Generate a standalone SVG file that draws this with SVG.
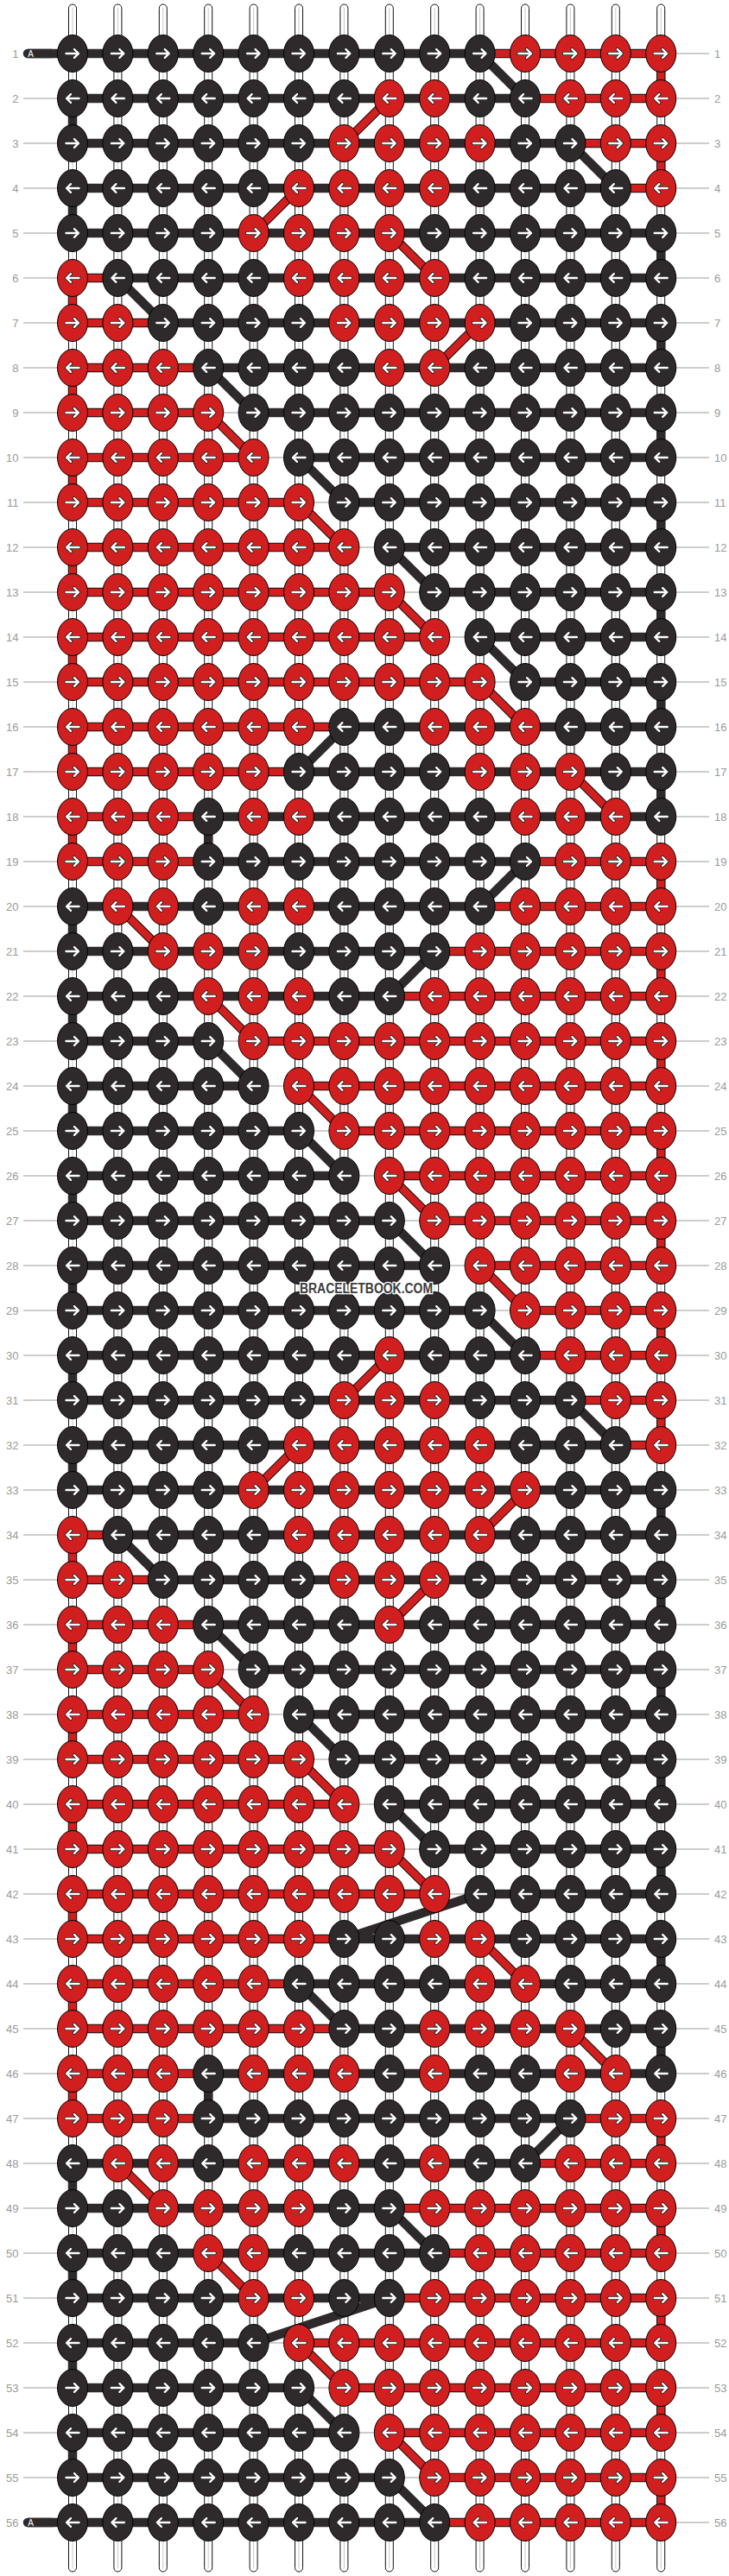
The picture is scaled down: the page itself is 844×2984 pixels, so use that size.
<svg xmlns="http://www.w3.org/2000/svg" width="844" height="2984" viewBox="0 0 844 2984">
<style>
.kb{fill:#2e2a2b;stroke:#000;stroke-width:1}
.kr{fill:#d01f1e;stroke:#000;stroke-width:1}
.st{fill:#fff;stroke:#111;stroke-width:1}
.sc{stroke:#c8c8c8;stroke-width:1;fill:none}
.gl{stroke:#bdbdbd;stroke-width:1.3;fill:none}
.tb{fill:none;stroke:#2e2a2b;stroke-width:10.5}
.to{fill:none;stroke:#111;stroke-width:10.5}
.tr{fill:none;stroke:#d01f1e;stroke-width:8.5}
.ll{font-family:"Liberation Sans",Arial,sans-serif;font-size:13px;fill:#9a9a9a;text-anchor:end}
.lr{font-family:"Liberation Sans",Arial,sans-serif;font-size:13px;fill:#9a9a9a;text-anchor:start}
</style>
<defs>
<g id="ar"><path d="M-7.5,0H6.5M2,-4.8L7,0L2,4.8" fill="none" stroke="#222" stroke-width="4.2" stroke-linecap="round" stroke-linejoin="round"/><path d="M-7.5,0H6.5M2,-4.8L7,0L2,4.8" fill="none" stroke="#fff" stroke-width="2.4" stroke-linecap="round" stroke-linejoin="round"/></g>
<g id="al"><use href="#ar" transform="scale(-1,1)"/></g>
<g id="Br"><ellipse rx="17.5" ry="21.5" class="kb"/><use href="#ar"/></g>
<g id="Rr"><ellipse rx="17.5" ry="21.5" class="kr"/><use href="#ar"/></g>
<g id="Bl"><ellipse rx="17.5" ry="21.5" class="kb"/><use href="#al"/></g>
<g id="Rl"><ellipse rx="17.5" ry="21.5" class="kr"/><use href="#al"/></g>
<path id="redpath" d="M555.6 62H765.2V114M608 114H765.2M450.8 114L398.4 166M660.4 166H765.2V218M712.8 218H765.2M346 218L293.6 270M450.8 270L503.2 322M84 322H136.4M84 322V374M84 374H188.8M555.6 374L503.2 426M84 426H241.2M84 426V478M84 478H241.2M241.2 478L293.6 530M84 530H293.6M84 530V582M84 582H346M346 582L398.4 634M84 634H398.4M84 634V686M84 686H450.8M450.8 686L503.2 738M84 738H503.2M84 738V790M84 790H555.6M555.6 790L608 842M84 842H398.4M84 842V894M84 894H346M660.4 894L712.8 946M84 946H241.2M84 946V998M84 998H241.2M608 998H765.2V1050M555.6 1050H765.2M136.4 1050L188.8 1102M503.2 1102H765.2V1154M450.8 1154H765.2M241.2 1154L293.6 1206M293.6 1206H765.2V1258M346 1258H765.2M346 1258L398.4 1310M398.4 1310H765.2V1362M450.8 1362H765.2M450.8 1362L503.2 1414M503.2 1414H765.2V1466M555.6 1466H765.2M555.6 1466L608 1518M608 1518H765.2V1570M608 1570H765.2M450.8 1570L398.4 1622M660.4 1622H765.2V1674M712.8 1674H765.2M346 1674L293.6 1726M608 1726L555.6 1778M84 1778H136.4M84 1778V1830M84 1830H188.8M503.2 1830L450.8 1882M84 1882H241.2M84 1882V1934M84 1934H241.2M241.2 1934L293.6 1986M84 1986H293.6M84 1986V2038M84 2038H346M346 2038L398.4 2090M84 2090H398.4M84 2090V2142M84 2142H450.8M450.8 2142L503.2 2194M84 2194H503.2M84 2194V2246M84 2246H398.4M555.6 2246L608 2298M84 2298H346M84 2298V2350M84 2350H398.4M660.4 2350L712.8 2402M84 2402H241.2M84 2402V2454M84 2454H241.2M660.4 2454H765.2V2506M608 2506H765.2M136.4 2506L188.8 2558M450.8 2558H765.2V2610M503.2 2610H765.2M241.2 2610L293.6 2662M450.8 2662H765.2V2714M346 2714H765.2M346 2714L398.4 2766M398.4 2766H765.2V2818M450.8 2818H765.2M450.8 2818L503.2 2870M503.2 2870H765.2V2922M503.2 2922H765.2"/>
</defs>
<rect width="844" height="2984" fill="#fff"/>
<g id="guides">
<path class="gl" d="M27 62H821M27 114H821M27 166H821M27 218H821M27 270H821M27 322H821M27 374H821M27 426H821M27 478H821M27 530H821M27 582H821M27 634H821M27 686H821M27 738H821M27 790H821M27 842H821M27 894H821M27 946H821M27 998H821M27 1050H821M27 1102H821M27 1154H821M27 1206H821M27 1258H821M27 1310H821M27 1362H821M27 1414H821M27 1466H821M27 1518H821M27 1570H821M27 1622H821M27 1674H821M27 1726H821M27 1778H821M27 1830H821M27 1882H821M27 1934H821M27 1986H821M27 2038H821M27 2090H821M27 2142H821M27 2194H821M27 2246H821M27 2298H821M27 2350H821M27 2402H821M27 2454H821M27 2506H821M27 2558H821M27 2610H821M27 2662H821M27 2714H821M27 2766H821M27 2818H821M27 2870H821M27 2922H821"/>
</g>
<g id="strings">
<rect class="st" x="79.5" y="5" width="9" height="2974" rx="4.5"/>
<rect class="st" x="131.9" y="5" width="9" height="2974" rx="4.5"/>
<rect class="st" x="184.3" y="5" width="9" height="2974" rx="4.5"/>
<rect class="st" x="236.7" y="5" width="9" height="2974" rx="4.5"/>
<rect class="st" x="289.1" y="5" width="9" height="2974" rx="4.5"/>
<rect class="st" x="341.5" y="5" width="9" height="2974" rx="4.5"/>
<rect class="st" x="393.9" y="5" width="9" height="2974" rx="4.5"/>
<rect class="st" x="446.3" y="5" width="9" height="2974" rx="4.5"/>
<rect class="st" x="498.7" y="5" width="9" height="2974" rx="4.5"/>
<rect class="st" x="551.1" y="5" width="9" height="2974" rx="4.5"/>
<rect class="st" x="603.5" y="5" width="9" height="2974" rx="4.5"/>
<rect class="st" x="655.9" y="5" width="9" height="2974" rx="4.5"/>
<rect class="st" x="708.3" y="5" width="9" height="2974" rx="4.5"/>
<rect class="st" x="760.7" y="5" width="9" height="2974" rx="4.5"/>
<path class="sc" d="M84 9V2975M136.4 9V2975M188.8 9V2975M241.2 9V2975M293.6 9V2975M346 9V2975M398.4 9V2975M450.8 9V2975M503.2 9V2975M555.6 9V2975M608 9V2975M660.4 9V2975M712.8 9V2975M765.2 9V2975"/>
</g>
<g id="connectors">
<path class="tb" d="M32 62H555.6M555.6 62L608 114M84 114H608M84 114V166M84 166H660.4M660.4 166L712.8 218M84 218H712.8M84 218V270M84 270H765.2M765.2 270V322M136.4 322H765.2M136.4 322L188.8 374M188.8 374H765.2M765.2 374V426M241.2 426H765.2M241.2 426L293.6 478M293.6 478H765.2M765.2 478V530M346 530H765.2M346 530L398.4 582M398.4 582H765.2M765.2 582V634M450.8 634H765.2M450.8 634L503.2 686M503.2 686H765.2M765.2 686V738M555.6 738H765.2M555.6 738L608 790M608 790H765.2M765.2 790V842M398.4 842H765.2M398.4 842L346 894M346 894H765.2M765.2 894V946M241.2 946H765.2M241.2 946V998M241.2 998H608M608 998L555.6 1050M84 1050H555.6M84 1050V1102M84 1102H503.2M503.2 1102L450.8 1154M84 1154H450.8M84 1154V1206M84 1206H241.2M241.2 1206L293.6 1258M84 1258H293.6M84 1258V1310M84 1310H346M346 1310L398.4 1362M84 1362H398.4M84 1362V1414M84 1414H450.8M450.8 1414L503.2 1466M84 1466H503.2M84 1466V1518M84 1518H555.6M555.6 1518L608 1570M84 1570H608M84 1570V1622M84 1622H660.4M660.4 1622L712.8 1674M84 1674H712.8M84 1674V1726M84 1726H765.2M765.2 1726V1778M136.4 1778H765.2M136.4 1778L188.8 1830M188.8 1830H765.2M765.2 1830V1882M241.2 1882H765.2M241.2 1882L293.6 1934M293.6 1934H765.2M765.2 1934V1986M346 1986H765.2M346 1986L398.4 2038M398.4 2038H765.2M765.2 2038V2090M450.8 2090H765.2M450.8 2090L503.2 2142M503.2 2142H765.2M765.2 2142V2194M555.6 2194H765.2M555.6 2194L398.4 2246M398.4 2246H765.2M765.2 2246V2298M346 2298H765.2M346 2298L398.4 2350M398.4 2350H765.2M765.2 2350V2402M241.2 2402H765.2M241.2 2402V2454M241.2 2454H660.4M660.4 2454L608 2506M84 2506H608M84 2506V2558M84 2558H450.8M450.8 2558L503.2 2610M84 2610H503.2M84 2610V2662M84 2662H450.8M450.8 2662L293.6 2714M84 2714H293.6M84 2714V2766M84 2766H346M346 2766L398.4 2818M84 2818H398.4M84 2818V2870M84 2870H450.8M450.8 2870L503.2 2922M32 2922H503.2"/>
<use href="#redpath" class="to"/>
<use href="#redpath" class="tr"/>
<path d="M32 62H60M32 2922H60" fill="none" stroke="#2e2a2b" stroke-width="10.5" stroke-linecap="round"/>
<text x="35.5" y="65.8" font-family="Liberation Sans, Arial, sans-serif" font-size="10" fill="#fff" text-anchor="middle">A</text>
<text x="35.5" y="2925.8" font-family="Liberation Sans, Arial, sans-serif" font-size="10" fill="#fff" text-anchor="middle">A</text>
</g>
<g id="knots">
<g id="row1" transform="translate(0,62)"><use id="k1-1" href="#Br" x="84"/><use id="k1-2" href="#Br" x="136.4"/><use id="k1-3" href="#Br" x="188.8"/><use id="k1-4" href="#Br" x="241.2"/><use id="k1-5" href="#Br" x="293.6"/><use id="k1-6" href="#Br" x="346"/><use id="k1-7" href="#Br" x="398.4"/><use id="k1-8" href="#Br" x="450.8"/><use id="k1-9" href="#Br" x="503.2"/><use id="k1-10" href="#Br" x="555.6"/><use id="k1-11" href="#Rr" x="608"/><use id="k1-12" href="#Rr" x="660.4"/><use id="k1-13" href="#Rr" x="712.8"/><use id="k1-14" href="#Rr" x="765.2"/></g>
<g id="row2" transform="translate(0,114)"><use id="k2-1" href="#Bl" x="84"/><use id="k2-2" href="#Bl" x="136.4"/><use id="k2-3" href="#Bl" x="188.8"/><use id="k2-4" href="#Bl" x="241.2"/><use id="k2-5" href="#Bl" x="293.6"/><use id="k2-6" href="#Bl" x="346"/><use id="k2-7" href="#Bl" x="398.4"/><use id="k2-8" href="#Rl" x="450.8"/><use id="k2-9" href="#Rl" x="503.2"/><use id="k2-10" href="#Bl" x="555.6"/><use id="k2-11" href="#Bl" x="608"/><use id="k2-12" href="#Rl" x="660.4"/><use id="k2-13" href="#Rl" x="712.8"/><use id="k2-14" href="#Rl" x="765.2"/></g>
<g id="row3" transform="translate(0,166)"><use id="k3-1" href="#Br" x="84"/><use id="k3-2" href="#Br" x="136.4"/><use id="k3-3" href="#Br" x="188.8"/><use id="k3-4" href="#Br" x="241.2"/><use id="k3-5" href="#Br" x="293.6"/><use id="k3-6" href="#Br" x="346"/><use id="k3-7" href="#Rr" x="398.4"/><use id="k3-8" href="#Rr" x="450.8"/><use id="k3-9" href="#Rr" x="503.2"/><use id="k3-10" href="#Rr" x="555.6"/><use id="k3-11" href="#Br" x="608"/><use id="k3-12" href="#Br" x="660.4"/><use id="k3-13" href="#Rr" x="712.8"/><use id="k3-14" href="#Rr" x="765.2"/></g>
<g id="row4" transform="translate(0,218)"><use id="k4-1" href="#Bl" x="84"/><use id="k4-2" href="#Bl" x="136.4"/><use id="k4-3" href="#Bl" x="188.8"/><use id="k4-4" href="#Bl" x="241.2"/><use id="k4-5" href="#Bl" x="293.6"/><use id="k4-6" href="#Rl" x="346"/><use id="k4-7" href="#Rl" x="398.4"/><use id="k4-8" href="#Rl" x="450.8"/><use id="k4-9" href="#Rl" x="503.2"/><use id="k4-10" href="#Bl" x="555.6"/><use id="k4-11" href="#Bl" x="608"/><use id="k4-12" href="#Bl" x="660.4"/><use id="k4-13" href="#Bl" x="712.8"/><use id="k4-14" href="#Rl" x="765.2"/></g>
<g id="row5" transform="translate(0,270)"><use id="k5-1" href="#Br" x="84"/><use id="k5-2" href="#Br" x="136.4"/><use id="k5-3" href="#Br" x="188.8"/><use id="k5-4" href="#Br" x="241.2"/><use id="k5-5" href="#Rr" x="293.6"/><use id="k5-6" href="#Rr" x="346"/><use id="k5-7" href="#Rr" x="398.4"/><use id="k5-8" href="#Rr" x="450.8"/><use id="k5-9" href="#Br" x="503.2"/><use id="k5-10" href="#Br" x="555.6"/><use id="k5-11" href="#Br" x="608"/><use id="k5-12" href="#Br" x="660.4"/><use id="k5-13" href="#Br" x="712.8"/><use id="k5-14" href="#Br" x="765.2"/></g>
<g id="row6" transform="translate(0,322)"><use id="k6-1" href="#Rl" x="84"/><use id="k6-2" href="#Bl" x="136.4"/><use id="k6-3" href="#Bl" x="188.8"/><use id="k6-4" href="#Bl" x="241.2"/><use id="k6-5" href="#Bl" x="293.6"/><use id="k6-6" href="#Rl" x="346"/><use id="k6-7" href="#Rl" x="398.4"/><use id="k6-8" href="#Rl" x="450.8"/><use id="k6-9" href="#Rl" x="503.2"/><use id="k6-10" href="#Bl" x="555.6"/><use id="k6-11" href="#Bl" x="608"/><use id="k6-12" href="#Bl" x="660.4"/><use id="k6-13" href="#Bl" x="712.8"/><use id="k6-14" href="#Bl" x="765.2"/></g>
<g id="row7" transform="translate(0,374)"><use id="k7-1" href="#Rr" x="84"/><use id="k7-2" href="#Rr" x="136.4"/><use id="k7-3" href="#Br" x="188.8"/><use id="k7-4" href="#Br" x="241.2"/><use id="k7-5" href="#Br" x="293.6"/><use id="k7-6" href="#Br" x="346"/><use id="k7-7" href="#Rr" x="398.4"/><use id="k7-8" href="#Rr" x="450.8"/><use id="k7-9" href="#Rr" x="503.2"/><use id="k7-10" href="#Rr" x="555.6"/><use id="k7-11" href="#Br" x="608"/><use id="k7-12" href="#Br" x="660.4"/><use id="k7-13" href="#Br" x="712.8"/><use id="k7-14" href="#Br" x="765.2"/></g>
<g id="row8" transform="translate(0,426)"><use id="k8-1" href="#Rl" x="84"/><use id="k8-2" href="#Rl" x="136.4"/><use id="k8-3" href="#Rl" x="188.8"/><use id="k8-4" href="#Bl" x="241.2"/><use id="k8-5" href="#Bl" x="293.6"/><use id="k8-6" href="#Bl" x="346"/><use id="k8-7" href="#Bl" x="398.4"/><use id="k8-8" href="#Rl" x="450.8"/><use id="k8-9" href="#Rl" x="503.2"/><use id="k8-10" href="#Bl" x="555.6"/><use id="k8-11" href="#Bl" x="608"/><use id="k8-12" href="#Bl" x="660.4"/><use id="k8-13" href="#Bl" x="712.8"/><use id="k8-14" href="#Bl" x="765.2"/></g>
<g id="row9" transform="translate(0,478)"><use id="k9-1" href="#Rr" x="84"/><use id="k9-2" href="#Rr" x="136.4"/><use id="k9-3" href="#Rr" x="188.8"/><use id="k9-4" href="#Rr" x="241.2"/><use id="k9-5" href="#Br" x="293.6"/><use id="k9-6" href="#Br" x="346"/><use id="k9-7" href="#Br" x="398.4"/><use id="k9-8" href="#Br" x="450.8"/><use id="k9-9" href="#Br" x="503.2"/><use id="k9-10" href="#Br" x="555.6"/><use id="k9-11" href="#Br" x="608"/><use id="k9-12" href="#Br" x="660.4"/><use id="k9-13" href="#Br" x="712.8"/><use id="k9-14" href="#Br" x="765.2"/></g>
<g id="row10" transform="translate(0,530)"><use id="k10-1" href="#Rl" x="84"/><use id="k10-2" href="#Rl" x="136.4"/><use id="k10-3" href="#Rl" x="188.8"/><use id="k10-4" href="#Rl" x="241.2"/><use id="k10-5" href="#Rl" x="293.6"/><use id="k10-6" href="#Bl" x="346"/><use id="k10-7" href="#Bl" x="398.4"/><use id="k10-8" href="#Bl" x="450.8"/><use id="k10-9" href="#Bl" x="503.2"/><use id="k10-10" href="#Bl" x="555.6"/><use id="k10-11" href="#Bl" x="608"/><use id="k10-12" href="#Bl" x="660.4"/><use id="k10-13" href="#Bl" x="712.8"/><use id="k10-14" href="#Bl" x="765.2"/></g>
<g id="row11" transform="translate(0,582)"><use id="k11-1" href="#Rr" x="84"/><use id="k11-2" href="#Rr" x="136.4"/><use id="k11-3" href="#Rr" x="188.8"/><use id="k11-4" href="#Rr" x="241.2"/><use id="k11-5" href="#Rr" x="293.6"/><use id="k11-6" href="#Rr" x="346"/><use id="k11-7" href="#Br" x="398.4"/><use id="k11-8" href="#Br" x="450.8"/><use id="k11-9" href="#Br" x="503.2"/><use id="k11-10" href="#Br" x="555.6"/><use id="k11-11" href="#Br" x="608"/><use id="k11-12" href="#Br" x="660.4"/><use id="k11-13" href="#Br" x="712.8"/><use id="k11-14" href="#Br" x="765.2"/></g>
<g id="row12" transform="translate(0,634)"><use id="k12-1" href="#Rl" x="84"/><use id="k12-2" href="#Rl" x="136.4"/><use id="k12-3" href="#Rl" x="188.8"/><use id="k12-4" href="#Rl" x="241.2"/><use id="k12-5" href="#Rl" x="293.6"/><use id="k12-6" href="#Rl" x="346"/><use id="k12-7" href="#Rl" x="398.4"/><use id="k12-8" href="#Bl" x="450.8"/><use id="k12-9" href="#Bl" x="503.2"/><use id="k12-10" href="#Bl" x="555.6"/><use id="k12-11" href="#Bl" x="608"/><use id="k12-12" href="#Bl" x="660.4"/><use id="k12-13" href="#Bl" x="712.8"/><use id="k12-14" href="#Bl" x="765.2"/></g>
<g id="row13" transform="translate(0,686)"><use id="k13-1" href="#Rr" x="84"/><use id="k13-2" href="#Rr" x="136.4"/><use id="k13-3" href="#Rr" x="188.8"/><use id="k13-4" href="#Rr" x="241.2"/><use id="k13-5" href="#Rr" x="293.6"/><use id="k13-6" href="#Rr" x="346"/><use id="k13-7" href="#Rr" x="398.4"/><use id="k13-8" href="#Rr" x="450.8"/><use id="k13-9" href="#Br" x="503.2"/><use id="k13-10" href="#Br" x="555.6"/><use id="k13-11" href="#Br" x="608"/><use id="k13-12" href="#Br" x="660.4"/><use id="k13-13" href="#Br" x="712.8"/><use id="k13-14" href="#Br" x="765.2"/></g>
<g id="row14" transform="translate(0,738)"><use id="k14-1" href="#Rl" x="84"/><use id="k14-2" href="#Rl" x="136.4"/><use id="k14-3" href="#Rl" x="188.8"/><use id="k14-4" href="#Rl" x="241.2"/><use id="k14-5" href="#Rl" x="293.6"/><use id="k14-6" href="#Rl" x="346"/><use id="k14-7" href="#Rl" x="398.4"/><use id="k14-8" href="#Rl" x="450.8"/><use id="k14-9" href="#Rl" x="503.2"/><use id="k14-10" href="#Bl" x="555.6"/><use id="k14-11" href="#Bl" x="608"/><use id="k14-12" href="#Bl" x="660.4"/><use id="k14-13" href="#Bl" x="712.8"/><use id="k14-14" href="#Bl" x="765.2"/></g>
<g id="row15" transform="translate(0,790)"><use id="k15-1" href="#Rr" x="84"/><use id="k15-2" href="#Rr" x="136.4"/><use id="k15-3" href="#Rr" x="188.8"/><use id="k15-4" href="#Rr" x="241.2"/><use id="k15-5" href="#Rr" x="293.6"/><use id="k15-6" href="#Rr" x="346"/><use id="k15-7" href="#Rr" x="398.4"/><use id="k15-8" href="#Rr" x="450.8"/><use id="k15-9" href="#Rr" x="503.2"/><use id="k15-10" href="#Rr" x="555.6"/><use id="k15-11" href="#Br" x="608"/><use id="k15-12" href="#Br" x="660.4"/><use id="k15-13" href="#Br" x="712.8"/><use id="k15-14" href="#Br" x="765.2"/></g>
<g id="row16" transform="translate(0,842)"><use id="k16-1" href="#Rl" x="84"/><use id="k16-2" href="#Rl" x="136.4"/><use id="k16-3" href="#Rl" x="188.8"/><use id="k16-4" href="#Rl" x="241.2"/><use id="k16-5" href="#Rl" x="293.6"/><use id="k16-6" href="#Rl" x="346"/><use id="k16-7" href="#Bl" x="398.4"/><use id="k16-8" href="#Bl" x="450.8"/><use id="k16-9" href="#Rl" x="503.2"/><use id="k16-10" href="#Rl" x="555.6"/><use id="k16-11" href="#Rl" x="608"/><use id="k16-12" href="#Bl" x="660.4"/><use id="k16-13" href="#Bl" x="712.8"/><use id="k16-14" href="#Bl" x="765.2"/></g>
<g id="row17" transform="translate(0,894)"><use id="k17-1" href="#Rr" x="84"/><use id="k17-2" href="#Rr" x="136.4"/><use id="k17-3" href="#Rr" x="188.8"/><use id="k17-4" href="#Rr" x="241.2"/><use id="k17-5" href="#Rr" x="293.6"/><use id="k17-6" href="#Br" x="346"/><use id="k17-7" href="#Br" x="398.4"/><use id="k17-8" href="#Br" x="450.8"/><use id="k17-9" href="#Br" x="503.2"/><use id="k17-10" href="#Rr" x="555.6"/><use id="k17-11" href="#Rr" x="608"/><use id="k17-12" href="#Rr" x="660.4"/><use id="k17-13" href="#Br" x="712.8"/><use id="k17-14" href="#Br" x="765.2"/></g>
<g id="row18" transform="translate(0,946)"><use id="k18-1" href="#Rl" x="84"/><use id="k18-2" href="#Rl" x="136.4"/><use id="k18-3" href="#Rl" x="188.8"/><use id="k18-4" href="#Bl" x="241.2"/><use id="k18-5" href="#Rl" x="293.6"/><use id="k18-6" href="#Rl" x="346"/><use id="k18-7" href="#Bl" x="398.4"/><use id="k18-8" href="#Bl" x="450.8"/><use id="k18-9" href="#Bl" x="503.2"/><use id="k18-10" href="#Bl" x="555.6"/><use id="k18-11" href="#Rl" x="608"/><use id="k18-12" href="#Rl" x="660.4"/><use id="k18-13" href="#Rl" x="712.8"/><use id="k18-14" href="#Bl" x="765.2"/></g>
<g id="row19" transform="translate(0,998)"><use id="k19-1" href="#Rr" x="84"/><use id="k19-2" href="#Rr" x="136.4"/><use id="k19-3" href="#Rr" x="188.8"/><use id="k19-4" href="#Br" x="241.2"/><use id="k19-5" href="#Br" x="293.6"/><use id="k19-6" href="#Br" x="346"/><use id="k19-7" href="#Br" x="398.4"/><use id="k19-8" href="#Br" x="450.8"/><use id="k19-9" href="#Br" x="503.2"/><use id="k19-10" href="#Br" x="555.6"/><use id="k19-11" href="#Br" x="608"/><use id="k19-12" href="#Rr" x="660.4"/><use id="k19-13" href="#Rr" x="712.8"/><use id="k19-14" href="#Rr" x="765.2"/></g>
<g id="row20" transform="translate(0,1050)"><use id="k20-1" href="#Bl" x="84"/><use id="k20-2" href="#Rl" x="136.4"/><use id="k20-3" href="#Rl" x="188.8"/><use id="k20-4" href="#Bl" x="241.2"/><use id="k20-5" href="#Rl" x="293.6"/><use id="k20-6" href="#Rl" x="346"/><use id="k20-7" href="#Bl" x="398.4"/><use id="k20-8" href="#Bl" x="450.8"/><use id="k20-9" href="#Bl" x="503.2"/><use id="k20-10" href="#Bl" x="555.6"/><use id="k20-11" href="#Rl" x="608"/><use id="k20-12" href="#Rl" x="660.4"/><use id="k20-13" href="#Rl" x="712.8"/><use id="k20-14" href="#Rl" x="765.2"/></g>
<g id="row21" transform="translate(0,1102)"><use id="k21-1" href="#Br" x="84"/><use id="k21-2" href="#Br" x="136.4"/><use id="k21-3" href="#Rr" x="188.8"/><use id="k21-4" href="#Rr" x="241.2"/><use id="k21-5" href="#Rr" x="293.6"/><use id="k21-6" href="#Br" x="346"/><use id="k21-7" href="#Br" x="398.4"/><use id="k21-8" href="#Br" x="450.8"/><use id="k21-9" href="#Br" x="503.2"/><use id="k21-10" href="#Rr" x="555.6"/><use id="k21-11" href="#Rr" x="608"/><use id="k21-12" href="#Rr" x="660.4"/><use id="k21-13" href="#Rr" x="712.8"/><use id="k21-14" href="#Rr" x="765.2"/></g>
<g id="row22" transform="translate(0,1154)"><use id="k22-1" href="#Bl" x="84"/><use id="k22-2" href="#Bl" x="136.4"/><use id="k22-3" href="#Bl" x="188.8"/><use id="k22-4" href="#Rl" x="241.2"/><use id="k22-5" href="#Rl" x="293.6"/><use id="k22-6" href="#Rl" x="346"/><use id="k22-7" href="#Bl" x="398.4"/><use id="k22-8" href="#Bl" x="450.8"/><use id="k22-9" href="#Rl" x="503.2"/><use id="k22-10" href="#Rl" x="555.6"/><use id="k22-11" href="#Rl" x="608"/><use id="k22-12" href="#Rl" x="660.4"/><use id="k22-13" href="#Rl" x="712.8"/><use id="k22-14" href="#Rl" x="765.2"/></g>
<g id="row23" transform="translate(0,1206)"><use id="k23-1" href="#Br" x="84"/><use id="k23-2" href="#Br" x="136.4"/><use id="k23-3" href="#Br" x="188.8"/><use id="k23-4" href="#Br" x="241.2"/><use id="k23-5" href="#Rr" x="293.6"/><use id="k23-6" href="#Rr" x="346"/><use id="k23-7" href="#Rr" x="398.4"/><use id="k23-8" href="#Rr" x="450.8"/><use id="k23-9" href="#Rr" x="503.2"/><use id="k23-10" href="#Rr" x="555.6"/><use id="k23-11" href="#Rr" x="608"/><use id="k23-12" href="#Rr" x="660.4"/><use id="k23-13" href="#Rr" x="712.8"/><use id="k23-14" href="#Rr" x="765.2"/></g>
<g id="row24" transform="translate(0,1258)"><use id="k24-1" href="#Bl" x="84"/><use id="k24-2" href="#Bl" x="136.4"/><use id="k24-3" href="#Bl" x="188.8"/><use id="k24-4" href="#Bl" x="241.2"/><use id="k24-5" href="#Bl" x="293.6"/><use id="k24-6" href="#Rl" x="346"/><use id="k24-7" href="#Rl" x="398.4"/><use id="k24-8" href="#Rl" x="450.8"/><use id="k24-9" href="#Rl" x="503.2"/><use id="k24-10" href="#Rl" x="555.6"/><use id="k24-11" href="#Rl" x="608"/><use id="k24-12" href="#Rl" x="660.4"/><use id="k24-13" href="#Rl" x="712.8"/><use id="k24-14" href="#Rl" x="765.2"/></g>
<g id="row25" transform="translate(0,1310)"><use id="k25-1" href="#Br" x="84"/><use id="k25-2" href="#Br" x="136.4"/><use id="k25-3" href="#Br" x="188.8"/><use id="k25-4" href="#Br" x="241.2"/><use id="k25-5" href="#Br" x="293.6"/><use id="k25-6" href="#Br" x="346"/><use id="k25-7" href="#Rr" x="398.4"/><use id="k25-8" href="#Rr" x="450.8"/><use id="k25-9" href="#Rr" x="503.2"/><use id="k25-10" href="#Rr" x="555.6"/><use id="k25-11" href="#Rr" x="608"/><use id="k25-12" href="#Rr" x="660.4"/><use id="k25-13" href="#Rr" x="712.8"/><use id="k25-14" href="#Rr" x="765.2"/></g>
<g id="row26" transform="translate(0,1362)"><use id="k26-1" href="#Bl" x="84"/><use id="k26-2" href="#Bl" x="136.4"/><use id="k26-3" href="#Bl" x="188.8"/><use id="k26-4" href="#Bl" x="241.2"/><use id="k26-5" href="#Bl" x="293.6"/><use id="k26-6" href="#Bl" x="346"/><use id="k26-7" href="#Bl" x="398.4"/><use id="k26-8" href="#Rl" x="450.8"/><use id="k26-9" href="#Rl" x="503.2"/><use id="k26-10" href="#Rl" x="555.6"/><use id="k26-11" href="#Rl" x="608"/><use id="k26-12" href="#Rl" x="660.4"/><use id="k26-13" href="#Rl" x="712.8"/><use id="k26-14" href="#Rl" x="765.2"/></g>
<g id="row27" transform="translate(0,1414)"><use id="k27-1" href="#Br" x="84"/><use id="k27-2" href="#Br" x="136.4"/><use id="k27-3" href="#Br" x="188.8"/><use id="k27-4" href="#Br" x="241.2"/><use id="k27-5" href="#Br" x="293.6"/><use id="k27-6" href="#Br" x="346"/><use id="k27-7" href="#Br" x="398.4"/><use id="k27-8" href="#Br" x="450.8"/><use id="k27-9" href="#Rr" x="503.2"/><use id="k27-10" href="#Rr" x="555.6"/><use id="k27-11" href="#Rr" x="608"/><use id="k27-12" href="#Rr" x="660.4"/><use id="k27-13" href="#Rr" x="712.8"/><use id="k27-14" href="#Rr" x="765.2"/></g>
<g id="row28" transform="translate(0,1466)"><use id="k28-1" href="#Bl" x="84"/><use id="k28-2" href="#Bl" x="136.4"/><use id="k28-3" href="#Bl" x="188.8"/><use id="k28-4" href="#Bl" x="241.2"/><use id="k28-5" href="#Bl" x="293.6"/><use id="k28-6" href="#Bl" x="346"/><use id="k28-7" href="#Bl" x="398.4"/><use id="k28-8" href="#Bl" x="450.8"/><use id="k28-9" href="#Bl" x="503.2"/><use id="k28-10" href="#Rl" x="555.6"/><use id="k28-11" href="#Rl" x="608"/><use id="k28-12" href="#Rl" x="660.4"/><use id="k28-13" href="#Rl" x="712.8"/><use id="k28-14" href="#Rl" x="765.2"/></g>
<g id="row29" transform="translate(0,1518)"><use id="k29-1" href="#Br" x="84"/><use id="k29-2" href="#Br" x="136.4"/><use id="k29-3" href="#Br" x="188.8"/><use id="k29-4" href="#Br" x="241.2"/><use id="k29-5" href="#Br" x="293.6"/><use id="k29-6" href="#Br" x="346"/><use id="k29-7" href="#Br" x="398.4"/><use id="k29-8" href="#Br" x="450.8"/><use id="k29-9" href="#Br" x="503.2"/><use id="k29-10" href="#Br" x="555.6"/><use id="k29-11" href="#Rr" x="608"/><use id="k29-12" href="#Rr" x="660.4"/><use id="k29-13" href="#Rr" x="712.8"/><use id="k29-14" href="#Rr" x="765.2"/></g>
<g id="row30" transform="translate(0,1570)"><use id="k30-1" href="#Bl" x="84"/><use id="k30-2" href="#Bl" x="136.4"/><use id="k30-3" href="#Bl" x="188.8"/><use id="k30-4" href="#Bl" x="241.2"/><use id="k30-5" href="#Bl" x="293.6"/><use id="k30-6" href="#Bl" x="346"/><use id="k30-7" href="#Bl" x="398.4"/><use id="k30-8" href="#Rl" x="450.8"/><use id="k30-9" href="#Bl" x="503.2"/><use id="k30-10" href="#Bl" x="555.6"/><use id="k30-11" href="#Bl" x="608"/><use id="k30-12" href="#Rl" x="660.4"/><use id="k30-13" href="#Rl" x="712.8"/><use id="k30-14" href="#Rl" x="765.2"/></g>
<g id="row31" transform="translate(0,1622)"><use id="k31-1" href="#Br" x="84"/><use id="k31-2" href="#Br" x="136.4"/><use id="k31-3" href="#Br" x="188.8"/><use id="k31-4" href="#Br" x="241.2"/><use id="k31-5" href="#Br" x="293.6"/><use id="k31-6" href="#Br" x="346"/><use id="k31-7" href="#Rr" x="398.4"/><use id="k31-8" href="#Rr" x="450.8"/><use id="k31-9" href="#Rr" x="503.2"/><use id="k31-10" href="#Br" x="555.6"/><use id="k31-11" href="#Br" x="608"/><use id="k31-12" href="#Br" x="660.4"/><use id="k31-13" href="#Rr" x="712.8"/><use id="k31-14" href="#Rr" x="765.2"/></g>
<g id="row32" transform="translate(0,1674)"><use id="k32-1" href="#Bl" x="84"/><use id="k32-2" href="#Bl" x="136.4"/><use id="k32-3" href="#Bl" x="188.8"/><use id="k32-4" href="#Bl" x="241.2"/><use id="k32-5" href="#Bl" x="293.6"/><use id="k32-6" href="#Rl" x="346"/><use id="k32-7" href="#Rl" x="398.4"/><use id="k32-8" href="#Rl" x="450.8"/><use id="k32-9" href="#Rl" x="503.2"/><use id="k32-10" href="#Rl" x="555.6"/><use id="k32-11" href="#Bl" x="608"/><use id="k32-12" href="#Bl" x="660.4"/><use id="k32-13" href="#Bl" x="712.8"/><use id="k32-14" href="#Rl" x="765.2"/></g>
<g id="row33" transform="translate(0,1726)"><use id="k33-1" href="#Br" x="84"/><use id="k33-2" href="#Br" x="136.4"/><use id="k33-3" href="#Br" x="188.8"/><use id="k33-4" href="#Br" x="241.2"/><use id="k33-5" href="#Rr" x="293.6"/><use id="k33-6" href="#Rr" x="346"/><use id="k33-7" href="#Rr" x="398.4"/><use id="k33-8" href="#Rr" x="450.8"/><use id="k33-9" href="#Rr" x="503.2"/><use id="k33-10" href="#Rr" x="555.6"/><use id="k33-11" href="#Rr" x="608"/><use id="k33-12" href="#Br" x="660.4"/><use id="k33-13" href="#Br" x="712.8"/><use id="k33-14" href="#Br" x="765.2"/></g>
<g id="row34" transform="translate(0,1778)"><use id="k34-1" href="#Rl" x="84"/><use id="k34-2" href="#Bl" x="136.4"/><use id="k34-3" href="#Bl" x="188.8"/><use id="k34-4" href="#Bl" x="241.2"/><use id="k34-5" href="#Bl" x="293.6"/><use id="k34-6" href="#Rl" x="346"/><use id="k34-7" href="#Rl" x="398.4"/><use id="k34-8" href="#Rl" x="450.8"/><use id="k34-9" href="#Rl" x="503.2"/><use id="k34-10" href="#Rl" x="555.6"/><use id="k34-11" href="#Bl" x="608"/><use id="k34-12" href="#Bl" x="660.4"/><use id="k34-13" href="#Bl" x="712.8"/><use id="k34-14" href="#Bl" x="765.2"/></g>
<g id="row35" transform="translate(0,1830)"><use id="k35-1" href="#Rr" x="84"/><use id="k35-2" href="#Rr" x="136.4"/><use id="k35-3" href="#Br" x="188.8"/><use id="k35-4" href="#Br" x="241.2"/><use id="k35-5" href="#Br" x="293.6"/><use id="k35-6" href="#Br" x="346"/><use id="k35-7" href="#Rr" x="398.4"/><use id="k35-8" href="#Rr" x="450.8"/><use id="k35-9" href="#Rr" x="503.2"/><use id="k35-10" href="#Br" x="555.6"/><use id="k35-11" href="#Br" x="608"/><use id="k35-12" href="#Br" x="660.4"/><use id="k35-13" href="#Br" x="712.8"/><use id="k35-14" href="#Br" x="765.2"/></g>
<g id="row36" transform="translate(0,1882)"><use id="k36-1" href="#Rl" x="84"/><use id="k36-2" href="#Rl" x="136.4"/><use id="k36-3" href="#Rl" x="188.8"/><use id="k36-4" href="#Bl" x="241.2"/><use id="k36-5" href="#Bl" x="293.6"/><use id="k36-6" href="#Bl" x="346"/><use id="k36-7" href="#Bl" x="398.4"/><use id="k36-8" href="#Rl" x="450.8"/><use id="k36-9" href="#Bl" x="503.2"/><use id="k36-10" href="#Bl" x="555.6"/><use id="k36-11" href="#Bl" x="608"/><use id="k36-12" href="#Bl" x="660.4"/><use id="k36-13" href="#Bl" x="712.8"/><use id="k36-14" href="#Bl" x="765.2"/></g>
<g id="row37" transform="translate(0,1934)"><use id="k37-1" href="#Rr" x="84"/><use id="k37-2" href="#Rr" x="136.4"/><use id="k37-3" href="#Rr" x="188.8"/><use id="k37-4" href="#Rr" x="241.2"/><use id="k37-5" href="#Br" x="293.6"/><use id="k37-6" href="#Br" x="346"/><use id="k37-7" href="#Br" x="398.4"/><use id="k37-8" href="#Br" x="450.8"/><use id="k37-9" href="#Br" x="503.2"/><use id="k37-10" href="#Br" x="555.6"/><use id="k37-11" href="#Br" x="608"/><use id="k37-12" href="#Br" x="660.4"/><use id="k37-13" href="#Br" x="712.8"/><use id="k37-14" href="#Br" x="765.2"/></g>
<g id="row38" transform="translate(0,1986)"><use id="k38-1" href="#Rl" x="84"/><use id="k38-2" href="#Rl" x="136.4"/><use id="k38-3" href="#Rl" x="188.8"/><use id="k38-4" href="#Rl" x="241.2"/><use id="k38-5" href="#Rl" x="293.6"/><use id="k38-6" href="#Bl" x="346"/><use id="k38-7" href="#Bl" x="398.4"/><use id="k38-8" href="#Bl" x="450.8"/><use id="k38-9" href="#Bl" x="503.2"/><use id="k38-10" href="#Bl" x="555.6"/><use id="k38-11" href="#Bl" x="608"/><use id="k38-12" href="#Bl" x="660.4"/><use id="k38-13" href="#Bl" x="712.8"/><use id="k38-14" href="#Bl" x="765.2"/></g>
<g id="row39" transform="translate(0,2038)"><use id="k39-1" href="#Rr" x="84"/><use id="k39-2" href="#Rr" x="136.4"/><use id="k39-3" href="#Rr" x="188.8"/><use id="k39-4" href="#Rr" x="241.2"/><use id="k39-5" href="#Rr" x="293.6"/><use id="k39-6" href="#Rr" x="346"/><use id="k39-7" href="#Br" x="398.4"/><use id="k39-8" href="#Br" x="450.8"/><use id="k39-9" href="#Br" x="503.2"/><use id="k39-10" href="#Br" x="555.6"/><use id="k39-11" href="#Br" x="608"/><use id="k39-12" href="#Br" x="660.4"/><use id="k39-13" href="#Br" x="712.8"/><use id="k39-14" href="#Br" x="765.2"/></g>
<g id="row40" transform="translate(0,2090)"><use id="k40-1" href="#Rl" x="84"/><use id="k40-2" href="#Rl" x="136.4"/><use id="k40-3" href="#Rl" x="188.8"/><use id="k40-4" href="#Rl" x="241.2"/><use id="k40-5" href="#Rl" x="293.6"/><use id="k40-6" href="#Rl" x="346"/><use id="k40-7" href="#Rl" x="398.4"/><use id="k40-8" href="#Bl" x="450.8"/><use id="k40-9" href="#Bl" x="503.2"/><use id="k40-10" href="#Bl" x="555.6"/><use id="k40-11" href="#Bl" x="608"/><use id="k40-12" href="#Bl" x="660.4"/><use id="k40-13" href="#Bl" x="712.8"/><use id="k40-14" href="#Bl" x="765.2"/></g>
<g id="row41" transform="translate(0,2142)"><use id="k41-1" href="#Rr" x="84"/><use id="k41-2" href="#Rr" x="136.4"/><use id="k41-3" href="#Rr" x="188.8"/><use id="k41-4" href="#Rr" x="241.2"/><use id="k41-5" href="#Rr" x="293.6"/><use id="k41-6" href="#Rr" x="346"/><use id="k41-7" href="#Rr" x="398.4"/><use id="k41-8" href="#Rr" x="450.8"/><use id="k41-9" href="#Br" x="503.2"/><use id="k41-10" href="#Br" x="555.6"/><use id="k41-11" href="#Br" x="608"/><use id="k41-12" href="#Br" x="660.4"/><use id="k41-13" href="#Br" x="712.8"/><use id="k41-14" href="#Br" x="765.2"/></g>
<g id="row42" transform="translate(0,2194)"><use id="k42-1" href="#Rl" x="84"/><use id="k42-2" href="#Rl" x="136.4"/><use id="k42-3" href="#Rl" x="188.8"/><use id="k42-4" href="#Rl" x="241.2"/><use id="k42-5" href="#Rl" x="293.6"/><use id="k42-6" href="#Rl" x="346"/><use id="k42-7" href="#Rl" x="398.4"/><use id="k42-8" href="#Rl" x="450.8"/><use id="k42-9" href="#Rl" x="503.2"/><use id="k42-10" href="#Bl" x="555.6"/><use id="k42-11" href="#Bl" x="608"/><use id="k42-12" href="#Bl" x="660.4"/><use id="k42-13" href="#Bl" x="712.8"/><use id="k42-14" href="#Bl" x="765.2"/></g>
<g id="row43" transform="translate(0,2246)"><use id="k43-1" href="#Rr" x="84"/><use id="k43-2" href="#Rr" x="136.4"/><use id="k43-3" href="#Rr" x="188.8"/><use id="k43-4" href="#Rr" x="241.2"/><use id="k43-5" href="#Rr" x="293.6"/><use id="k43-6" href="#Rr" x="346"/><use id="k43-7" href="#Br" x="398.4"/><use id="k43-8" href="#Br" x="450.8"/><use id="k43-9" href="#Rr" x="503.2"/><use id="k43-10" href="#Rr" x="555.6"/><use id="k43-11" href="#Br" x="608"/><use id="k43-12" href="#Br" x="660.4"/><use id="k43-13" href="#Br" x="712.8"/><use id="k43-14" href="#Br" x="765.2"/></g>
<g id="row44" transform="translate(0,2298)"><use id="k44-1" href="#Rl" x="84"/><use id="k44-2" href="#Rl" x="136.4"/><use id="k44-3" href="#Rl" x="188.8"/><use id="k44-4" href="#Rl" x="241.2"/><use id="k44-5" href="#Rl" x="293.6"/><use id="k44-6" href="#Bl" x="346"/><use id="k44-7" href="#Bl" x="398.4"/><use id="k44-8" href="#Bl" x="450.8"/><use id="k44-9" href="#Bl" x="503.2"/><use id="k44-10" href="#Rl" x="555.6"/><use id="k44-11" href="#Rl" x="608"/><use id="k44-12" href="#Bl" x="660.4"/><use id="k44-13" href="#Bl" x="712.8"/><use id="k44-14" href="#Bl" x="765.2"/></g>
<g id="row45" transform="translate(0,2350)"><use id="k45-1" href="#Rr" x="84"/><use id="k45-2" href="#Rr" x="136.4"/><use id="k45-3" href="#Rr" x="188.8"/><use id="k45-4" href="#Rr" x="241.2"/><use id="k45-5" href="#Rr" x="293.6"/><use id="k45-6" href="#Rr" x="346"/><use id="k45-7" href="#Br" x="398.4"/><use id="k45-8" href="#Br" x="450.8"/><use id="k45-9" href="#Rr" x="503.2"/><use id="k45-10" href="#Rr" x="555.6"/><use id="k45-11" href="#Rr" x="608"/><use id="k45-12" href="#Rr" x="660.4"/><use id="k45-13" href="#Br" x="712.8"/><use id="k45-14" href="#Br" x="765.2"/></g>
<g id="row46" transform="translate(0,2402)"><use id="k46-1" href="#Rl" x="84"/><use id="k46-2" href="#Rl" x="136.4"/><use id="k46-3" href="#Rl" x="188.8"/><use id="k46-4" href="#Bl" x="241.2"/><use id="k46-5" href="#Rl" x="293.6"/><use id="k46-6" href="#Rl" x="346"/><use id="k46-7" href="#Rl" x="398.4"/><use id="k46-8" href="#Bl" x="450.8"/><use id="k46-9" href="#Rl" x="503.2"/><use id="k46-10" href="#Bl" x="555.6"/><use id="k46-11" href="#Bl" x="608"/><use id="k46-12" href="#Rl" x="660.4"/><use id="k46-13" href="#Rl" x="712.8"/><use id="k46-14" href="#Bl" x="765.2"/></g>
<g id="row47" transform="translate(0,2454)"><use id="k47-1" href="#Rr" x="84"/><use id="k47-2" href="#Rr" x="136.4"/><use id="k47-3" href="#Rr" x="188.8"/><use id="k47-4" href="#Br" x="241.2"/><use id="k47-5" href="#Br" x="293.6"/><use id="k47-6" href="#Br" x="346"/><use id="k47-7" href="#Br" x="398.4"/><use id="k47-8" href="#Br" x="450.8"/><use id="k47-9" href="#Br" x="503.2"/><use id="k47-10" href="#Br" x="555.6"/><use id="k47-11" href="#Br" x="608"/><use id="k47-12" href="#Br" x="660.4"/><use id="k47-13" href="#Rr" x="712.8"/><use id="k47-14" href="#Rr" x="765.2"/></g>
<g id="row48" transform="translate(0,2506)"><use id="k48-1" href="#Bl" x="84"/><use id="k48-2" href="#Rl" x="136.4"/><use id="k48-3" href="#Rl" x="188.8"/><use id="k48-4" href="#Bl" x="241.2"/><use id="k48-5" href="#Rl" x="293.6"/><use id="k48-6" href="#Rl" x="346"/><use id="k48-7" href="#Rl" x="398.4"/><use id="k48-8" href="#Bl" x="450.8"/><use id="k48-9" href="#Rl" x="503.2"/><use id="k48-10" href="#Bl" x="555.6"/><use id="k48-11" href="#Bl" x="608"/><use id="k48-12" href="#Rl" x="660.4"/><use id="k48-13" href="#Rl" x="712.8"/><use id="k48-14" href="#Rl" x="765.2"/></g>
<g id="row49" transform="translate(0,2558)"><use id="k49-1" href="#Br" x="84"/><use id="k49-2" href="#Br" x="136.4"/><use id="k49-3" href="#Rr" x="188.8"/><use id="k49-4" href="#Rr" x="241.2"/><use id="k49-5" href="#Rr" x="293.6"/><use id="k49-6" href="#Rr" x="346"/><use id="k49-7" href="#Br" x="398.4"/><use id="k49-8" href="#Br" x="450.8"/><use id="k49-9" href="#Rr" x="503.2"/><use id="k49-10" href="#Rr" x="555.6"/><use id="k49-11" href="#Rr" x="608"/><use id="k49-12" href="#Rr" x="660.4"/><use id="k49-13" href="#Rr" x="712.8"/><use id="k49-14" href="#Rr" x="765.2"/></g>
<g id="row50" transform="translate(0,2610)"><use id="k50-1" href="#Bl" x="84"/><use id="k50-2" href="#Bl" x="136.4"/><use id="k50-3" href="#Bl" x="188.8"/><use id="k50-4" href="#Rl" x="241.2"/><use id="k50-5" href="#Rl" x="293.6"/><use id="k50-6" href="#Bl" x="346"/><use id="k50-7" href="#Bl" x="398.4"/><use id="k50-8" href="#Bl" x="450.8"/><use id="k50-9" href="#Bl" x="503.2"/><use id="k50-10" href="#Rl" x="555.6"/><use id="k50-11" href="#Rl" x="608"/><use id="k50-12" href="#Rl" x="660.4"/><use id="k50-13" href="#Rl" x="712.8"/><use id="k50-14" href="#Rl" x="765.2"/></g>
<g id="row51" transform="translate(0,2662)"><use id="k51-1" href="#Br" x="84"/><use id="k51-2" href="#Br" x="136.4"/><use id="k51-3" href="#Br" x="188.8"/><use id="k51-4" href="#Br" x="241.2"/><use id="k51-5" href="#Rr" x="293.6"/><use id="k51-6" href="#Rr" x="346"/><use id="k51-7" href="#Br" x="398.4"/><use id="k51-8" href="#Br" x="450.8"/><use id="k51-9" href="#Rr" x="503.2"/><use id="k51-10" href="#Rr" x="555.6"/><use id="k51-11" href="#Rr" x="608"/><use id="k51-12" href="#Rr" x="660.4"/><use id="k51-13" href="#Rr" x="712.8"/><use id="k51-14" href="#Rr" x="765.2"/></g>
<g id="row52" transform="translate(0,2714)"><use id="k52-1" href="#Bl" x="84"/><use id="k52-2" href="#Bl" x="136.4"/><use id="k52-3" href="#Bl" x="188.8"/><use id="k52-4" href="#Bl" x="241.2"/><use id="k52-5" href="#Bl" x="293.6"/><use id="k52-6" href="#Rl" x="346"/><use id="k52-7" href="#Rl" x="398.4"/><use id="k52-8" href="#Rl" x="450.8"/><use id="k52-9" href="#Rl" x="503.2"/><use id="k52-10" href="#Rl" x="555.6"/><use id="k52-11" href="#Rl" x="608"/><use id="k52-12" href="#Rl" x="660.4"/><use id="k52-13" href="#Rl" x="712.8"/><use id="k52-14" href="#Rl" x="765.2"/></g>
<g id="row53" transform="translate(0,2766)"><use id="k53-1" href="#Br" x="84"/><use id="k53-2" href="#Br" x="136.4"/><use id="k53-3" href="#Br" x="188.8"/><use id="k53-4" href="#Br" x="241.2"/><use id="k53-5" href="#Br" x="293.6"/><use id="k53-6" href="#Br" x="346"/><use id="k53-7" href="#Rr" x="398.4"/><use id="k53-8" href="#Rr" x="450.8"/><use id="k53-9" href="#Rr" x="503.2"/><use id="k53-10" href="#Rr" x="555.6"/><use id="k53-11" href="#Rr" x="608"/><use id="k53-12" href="#Rr" x="660.4"/><use id="k53-13" href="#Rr" x="712.8"/><use id="k53-14" href="#Rr" x="765.2"/></g>
<g id="row54" transform="translate(0,2818)"><use id="k54-1" href="#Bl" x="84"/><use id="k54-2" href="#Bl" x="136.4"/><use id="k54-3" href="#Bl" x="188.8"/><use id="k54-4" href="#Bl" x="241.2"/><use id="k54-5" href="#Bl" x="293.6"/><use id="k54-6" href="#Bl" x="346"/><use id="k54-7" href="#Bl" x="398.4"/><use id="k54-8" href="#Rl" x="450.8"/><use id="k54-9" href="#Rl" x="503.2"/><use id="k54-10" href="#Rl" x="555.6"/><use id="k54-11" href="#Rl" x="608"/><use id="k54-12" href="#Rl" x="660.4"/><use id="k54-13" href="#Rl" x="712.8"/><use id="k54-14" href="#Rl" x="765.2"/></g>
<g id="row55" transform="translate(0,2870)"><use id="k55-1" href="#Br" x="84"/><use id="k55-2" href="#Br" x="136.4"/><use id="k55-3" href="#Br" x="188.8"/><use id="k55-4" href="#Br" x="241.2"/><use id="k55-5" href="#Br" x="293.6"/><use id="k55-6" href="#Br" x="346"/><use id="k55-7" href="#Br" x="398.4"/><use id="k55-8" href="#Br" x="450.8"/><use id="k55-9" href="#Rr" x="503.2"/><use id="k55-10" href="#Rr" x="555.6"/><use id="k55-11" href="#Rr" x="608"/><use id="k55-12" href="#Rr" x="660.4"/><use id="k55-13" href="#Rr" x="712.8"/><use id="k55-14" href="#Rr" x="765.2"/></g>
<g id="row56" transform="translate(0,2922)"><use id="k56-1" href="#Bl" x="84"/><use id="k56-2" href="#Bl" x="136.4"/><use id="k56-3" href="#Bl" x="188.8"/><use id="k56-4" href="#Bl" x="241.2"/><use id="k56-5" href="#Bl" x="293.6"/><use id="k56-6" href="#Bl" x="346"/><use id="k56-7" href="#Bl" x="398.4"/><use id="k56-8" href="#Bl" x="450.8"/><use id="k56-9" href="#Bl" x="503.2"/><use id="k56-10" href="#Rl" x="555.6"/><use id="k56-11" href="#Rl" x="608"/><use id="k56-12" href="#Rl" x="660.4"/><use id="k56-13" href="#Rl" x="712.8"/><use id="k56-14" href="#Rl" x="765.2"/></g>
</g>
<g id="labels-left">
<text class="ll" x="21.5" y="66.6">1</text><text class="ll" x="21.5" y="118.6">2</text><text class="ll" x="21.5" y="170.6">3</text><text class="ll" x="21.5" y="222.6">4</text><text class="ll" x="21.5" y="274.6">5</text><text class="ll" x="21.5" y="326.6">6</text><text class="ll" x="21.5" y="378.6">7</text><text class="ll" x="21.5" y="430.6">8</text><text class="ll" x="21.5" y="482.6">9</text><text class="ll" x="21.5" y="534.6">10</text><text class="ll" x="21.5" y="586.6">11</text><text class="ll" x="21.5" y="638.6">12</text><text class="ll" x="21.5" y="690.6">13</text><text class="ll" x="21.5" y="742.6">14</text><text class="ll" x="21.5" y="794.6">15</text><text class="ll" x="21.5" y="846.6">16</text><text class="ll" x="21.5" y="898.6">17</text><text class="ll" x="21.5" y="950.6">18</text><text class="ll" x="21.5" y="1002.6">19</text><text class="ll" x="21.5" y="1054.6">20</text><text class="ll" x="21.5" y="1106.6">21</text><text class="ll" x="21.5" y="1158.6">22</text><text class="ll" x="21.5" y="1210.6">23</text><text class="ll" x="21.5" y="1262.6">24</text><text class="ll" x="21.5" y="1314.6">25</text><text class="ll" x="21.5" y="1366.6">26</text><text class="ll" x="21.5" y="1418.6">27</text><text class="ll" x="21.5" y="1470.6">28</text><text class="ll" x="21.5" y="1522.6">29</text><text class="ll" x="21.5" y="1574.6">30</text><text class="ll" x="21.5" y="1626.6">31</text><text class="ll" x="21.5" y="1678.6">32</text><text class="ll" x="21.5" y="1730.6">33</text><text class="ll" x="21.5" y="1782.6">34</text><text class="ll" x="21.5" y="1834.6">35</text><text class="ll" x="21.5" y="1886.6">36</text><text class="ll" x="21.5" y="1938.6">37</text><text class="ll" x="21.5" y="1990.6">38</text><text class="ll" x="21.5" y="2042.6">39</text><text class="ll" x="21.5" y="2094.6">40</text><text class="ll" x="21.5" y="2146.6">41</text><text class="ll" x="21.5" y="2198.6">42</text><text class="ll" x="21.5" y="2250.6">43</text><text class="ll" x="21.5" y="2302.6">44</text><text class="ll" x="21.5" y="2354.6">45</text><text class="ll" x="21.5" y="2406.6">46</text><text class="ll" x="21.5" y="2458.6">47</text><text class="ll" x="21.5" y="2510.6">48</text><text class="ll" x="21.5" y="2562.6">49</text><text class="ll" x="21.5" y="2614.6">50</text><text class="ll" x="21.5" y="2666.6">51</text><text class="ll" x="21.5" y="2718.6">52</text><text class="ll" x="21.5" y="2770.6">53</text><text class="ll" x="21.5" y="2822.6">54</text><text class="ll" x="21.5" y="2874.6">55</text><text class="ll" x="21.5" y="2926.6">56</text>
</g>
<g id="labels-right">
<text class="lr" x="827" y="66.6">1</text><text class="lr" x="827" y="118.6">2</text><text class="lr" x="827" y="170.6">3</text><text class="lr" x="827" y="222.6">4</text><text class="lr" x="827" y="274.6">5</text><text class="lr" x="827" y="326.6">6</text><text class="lr" x="827" y="378.6">7</text><text class="lr" x="827" y="430.6">8</text><text class="lr" x="827" y="482.6">9</text><text class="lr" x="827" y="534.6">10</text><text class="lr" x="827" y="586.6">11</text><text class="lr" x="827" y="638.6">12</text><text class="lr" x="827" y="690.6">13</text><text class="lr" x="827" y="742.6">14</text><text class="lr" x="827" y="794.6">15</text><text class="lr" x="827" y="846.6">16</text><text class="lr" x="827" y="898.6">17</text><text class="lr" x="827" y="950.6">18</text><text class="lr" x="827" y="1002.6">19</text><text class="lr" x="827" y="1054.6">20</text><text class="lr" x="827" y="1106.6">21</text><text class="lr" x="827" y="1158.6">22</text><text class="lr" x="827" y="1210.6">23</text><text class="lr" x="827" y="1262.6">24</text><text class="lr" x="827" y="1314.6">25</text><text class="lr" x="827" y="1366.6">26</text><text class="lr" x="827" y="1418.6">27</text><text class="lr" x="827" y="1470.6">28</text><text class="lr" x="827" y="1522.6">29</text><text class="lr" x="827" y="1574.6">30</text><text class="lr" x="827" y="1626.6">31</text><text class="lr" x="827" y="1678.6">32</text><text class="lr" x="827" y="1730.6">33</text><text class="lr" x="827" y="1782.6">34</text><text class="lr" x="827" y="1834.6">35</text><text class="lr" x="827" y="1886.6">36</text><text class="lr" x="827" y="1938.6">37</text><text class="lr" x="827" y="1990.6">38</text><text class="lr" x="827" y="2042.6">39</text><text class="lr" x="827" y="2094.6">40</text><text class="lr" x="827" y="2146.6">41</text><text class="lr" x="827" y="2198.6">42</text><text class="lr" x="827" y="2250.6">43</text><text class="lr" x="827" y="2302.6">44</text><text class="lr" x="827" y="2354.6">45</text><text class="lr" x="827" y="2406.6">46</text><text class="lr" x="827" y="2458.6">47</text><text class="lr" x="827" y="2510.6">48</text><text class="lr" x="827" y="2562.6">49</text><text class="lr" x="827" y="2614.6">50</text><text class="lr" x="827" y="2666.6">51</text><text class="lr" x="827" y="2718.6">52</text><text class="lr" x="827" y="2770.6">53</text><text class="lr" x="827" y="2822.6">54</text><text class="lr" x="827" y="2874.6">55</text><text class="lr" x="827" y="2926.6">56</text>
</g>
<text id="watermark" x="424" y="1497.5" font-family="Liberation Sans, Arial, sans-serif" font-size="16" font-weight="bold" fill="#3c3c3c" stroke="#fff" stroke-width="2.5" paint-order="stroke" text-anchor="middle" textLength="154" lengthAdjust="spacingAndGlyphs">BRACELETBOOK.COM</text>
</svg>
